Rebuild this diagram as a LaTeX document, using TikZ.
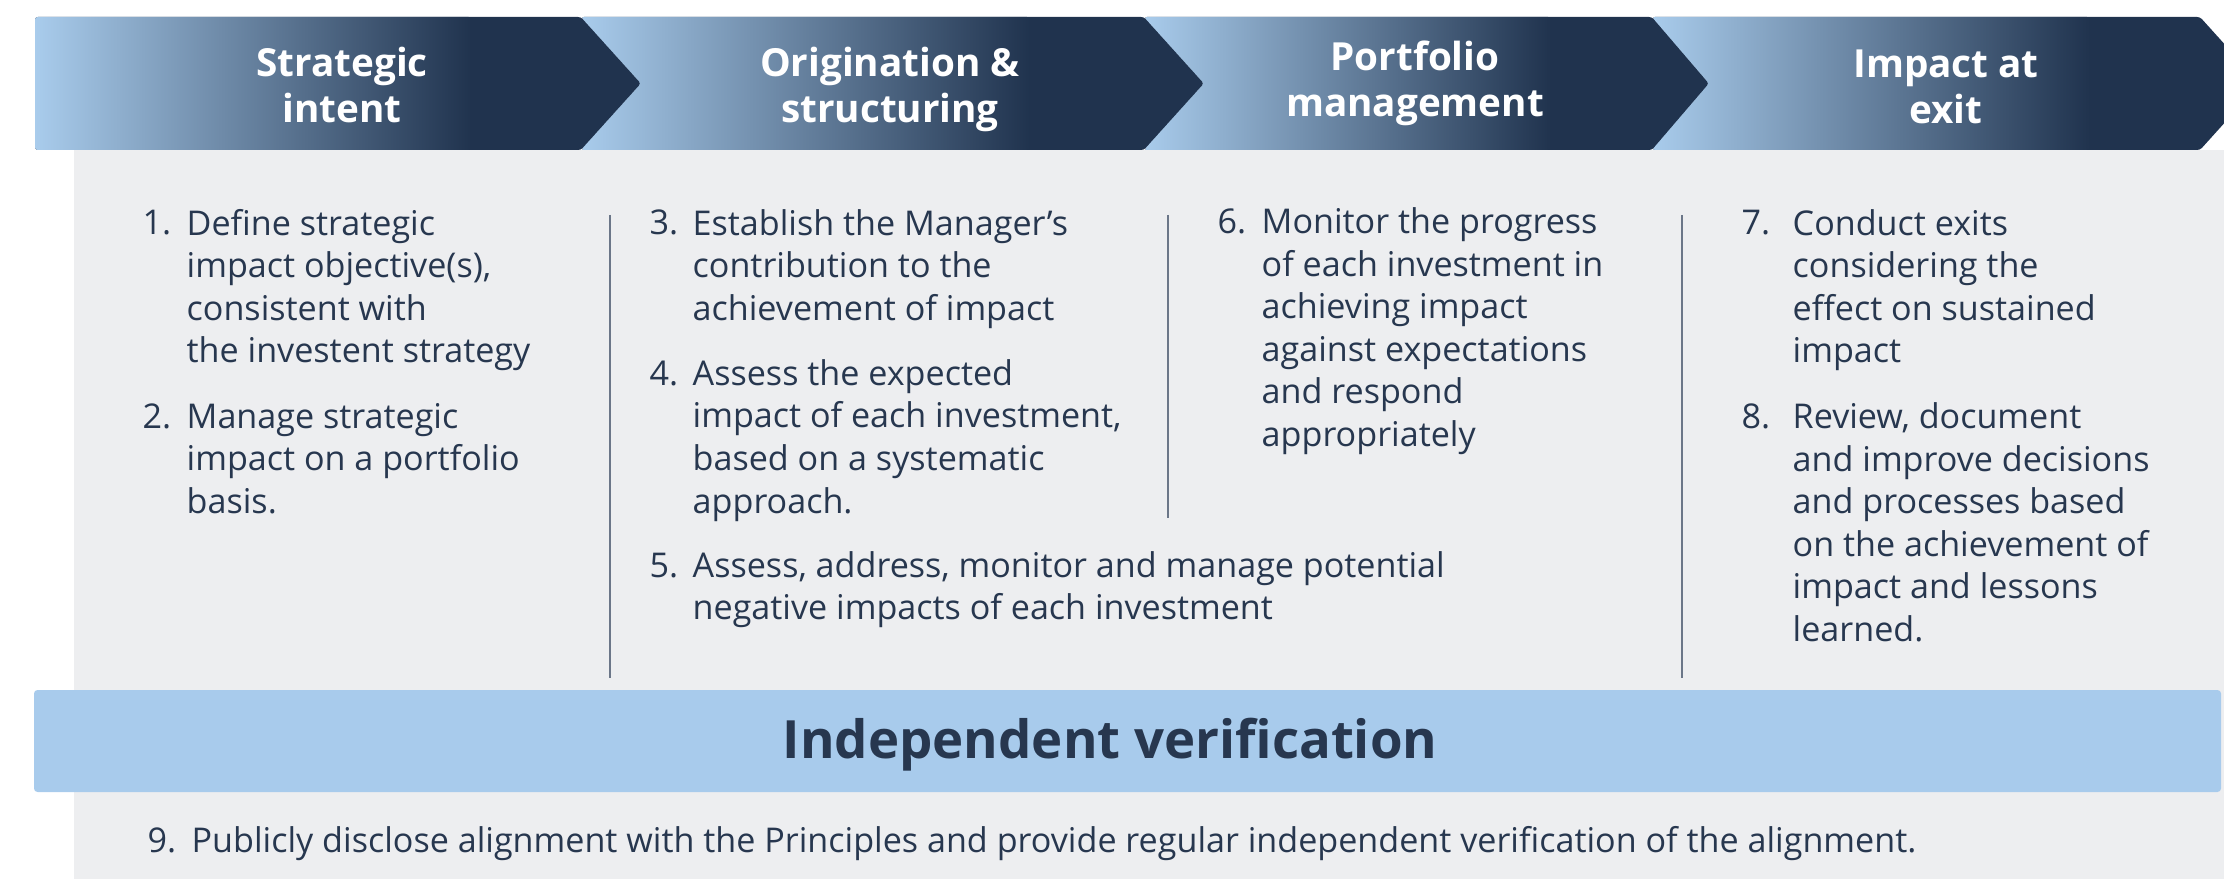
\documentclass[tikz,border=0pt]{standalone}
\usepackage{fontspec}
\setmainfont{Open Sans}
\usepackage{tikz}
\usetikzlibrary{calc}

\definecolor{chevlight}{HTML}{A9CCEC}
\definecolor{chevdark}{HTML}{20334E}
\definecolor{bandblue}{HTML}{A8CBEC}
\definecolor{panelgray}{HTML}{EDEEF0}
\definecolor{inknavy}{HTML}{27374F}
\definecolor{rulegray}{HTML}{6B7688}

\tikzset{
  chevron/.style={
    fill=chevdark, rounded corners=0.8pt,
    path picture={
      \coordinate (gradend) at ($(path picture bounding box.west)!0.72!(path picture bounding box.east)$);
      \shade[left color=chevlight, right color=chevdark]
        (path picture bounding box.south west) rectangle (gradend |- path picture bounding box.north);
    }
  },
  header/.style={
    anchor=base, align=center, inner sep=0pt, text=white,
    font=\fontsize{11pt}{13.3pt}\selectfont\bfseries
  },
  itemnum/.style={
    anchor=base west, inner sep=0pt, text=inknavy,
    font=\fontsize{9.7pt}{12.1pt}\selectfont
  },
  itemtext/.style={
    itemnum, align=left
  },
  divider/.style={
    draw=rulegray, line width=0.6pt
  },
  bandtitle/.style={
    anchor=base, inner sep=0pt, text=inknavy,
    font=\fontsize{15pt}{18pt}\selectfont\bfseries
  }
}

\begin{document}
\begin{tikzpicture}[x=0.01cm, y=-0.01cm]

    \useasboundingbox (0,0) rectangle (2224,882);
    \clip (0,0) rectangle (2224,882);

    % Panel
    \fill[panelgray] (74,150) rectangle (2224,879);

    % Chevrons (text nodes sit on the baseline of their last line)
    \path[chevron] (35,17) -- (581,17) -- (641,83.5) -- (581,150) -- (35,150) -- cycle;
    \path[chevron] (581,17) -- (1144,17) -- (1204,83.5) -- (1144,150) -- (581,150) -- (641,83.5) -- cycle;
    \path[chevron] (1144,17) -- (1652,17) -- (1709,83.5) -- (1652,150) -- (1144,150) -- (1204,83.5) -- cycle;
    \path[chevron] (1652,17) -- (2200,17) -- (2260,83.5) -- (2200,150) -- (1652,150) -- (1709,83.5) -- cycle;

    \node[header] (intent) at (342,123) {Strategic\\intent};
    \node[header] (origin) at (890,123) {Origination \&\\structuring};
    \node[header] (portf) at (1415,117) {Portfolio\\management};
    \node[header] (exit) at (1946,124) {Impact at\\exit};

    % Separators
    \draw[divider] (610,215) -- (610,678);
    \draw[divider] (1168,215) -- (1168,518);
    \draw[divider] (1682,215) -- (1682,678);

    % Strategic intent
    \node[itemnum] (n1) at (142,235) {1.};
    \node[itemtext] (t1) at (186,363) {Define strategic\\impact objective(s),\\consistent with\\the investent strategy};
    \node[itemnum] (n2) at (142,428) {2.};
    \node[itemtext] (t2) at (186,513.4) {Manage strategic\\impact on a portfolio\\basis.};

    % Origination & structuring
    \node[itemnum] (n3) at (649,235) {3.};
    \node[itemtext] (t3) at (692,320.4) {Establish the Manager’s\\contribution to the\\achievement of impact};
    \node[itemnum] (n4) at (649,385) {4.};
    \node[itemtext] (t4) at (692,513) {Assess the expected\\impact of each investment,\\based on a systematic\\approach.};
    \node[itemnum] (n5) at (649,577) {5.};
    \node[itemtext] (t5) at (692,619.7) {Assess, address, monitor and manage potential\\negative impacts of each investment};

    % Portfolio management
    \node[itemnum] (n6) at (1217,233) {6.};
    \node[itemtext] (t6) at (1261,446.4) {Monitor the progress\\of each investment in\\achieving impact\\against expectations\\and respond\\appropriately};

    % Impact at exit
    \node[itemnum] (n7) at (1741,235) {7.};
    \node[itemtext] (t7) at (1792,363) {Conduct exits\\considering the\\effect on sustained\\impact};
    \node[itemnum] (n8) at (1741,428) {8.};
    \node[itemtext] (t8) at (1792,641.4) {Review, document\\and improve decisions\\and processes based\\on the achievement of\\impact and lessons\\learned.};

    % Verification
    \fill[bandblue, rounded corners=1pt] (34,690) rectangle (2221,792);
    \node[bandtitle] (verif) at (1110,758) {Independent verification};

    \node[itemnum] (n9) at (147,852) {9.};
    \node[itemtext] (t9) at (191,852) {Publicly disclose alignment with the Principles and provide regular independent verification of the alignment.};

\end{tikzpicture}
\end{document}
